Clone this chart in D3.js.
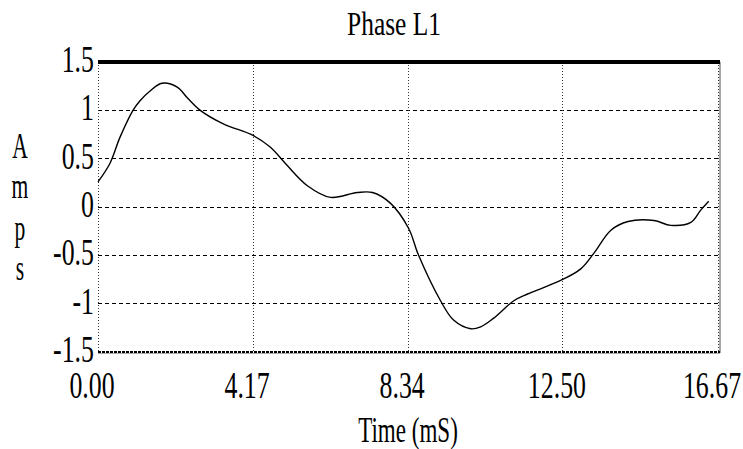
<!DOCTYPE html>
<html><head><meta charset="utf-8">
<script src="https://cdn.jsdelivr.net/npm/d3@7"></script>
<style>body{margin:0;background:#fff}svg{display:block}</style>
</head><body><svg id="c" width="743" height="449"></svg>
<script>
const title = "Phase L1";
const xLabel = "Time (mS)";
const yLabelLetters = ["A","m","p","s"];
const xTicks = [0, 4.17, 8.34, 12.50, 16.67];
const xTickLabels = ["0.00","4.17","8.34","12.50","16.67"];
const yTicks = [1.5, 1, 0.5, 0, -0.5, -1, -1.5];
const yTickLabels = ["1.5","1","0.5","0","-0.5","-1","-1.5"];
const timeMs = [0.00,0.32,0.59,0.94,1.13,1.40,1.72,2.13,2.40,2.75,3.37,4.17,4.63,5.04,5.63,6.25,6.97,7.38,7.86,8.35,8.62,9.21,9.56,10.02,10.29,10.64,11.18,11.55,12.44,12.98,13.33,13.79,14.25,14.95,15.40,15.94,16.21,16.42];
const amps   = [0.26,0.45,0.72,1.00,1.10,1.20,1.28,1.24,1.13,1.00,0.86,0.74,0.62,0.45,0.22,0.10,0.15,0.15,0.04,-0.22,-0.50,-0.97,-1.17,-1.26,-1.24,-1.15,-0.97,-0.90,-0.76,-0.64,-0.48,-0.24,-0.15,-0.14,-0.19,-0.16,-0.03,0.06];

const svg = d3.select("#c");
const L = 98, R = 718, T = 62, B = 352;
const x = d3.scaleLinear().domain([0, 16.67]).range([L, R]);
const y = d3.scaleLinear().domain([-1.5, 1.5]).range([B, T]);
const FONT = "'Liberation Serif', serif";

function ctext(px, py, str, size, sx, anchor){
  svg.append("text")
    .attr("transform", `translate(${px},${py}) scale(${sx},1)`)
    .attr("text-anchor", anchor)
    .attr("font-family", FONT).attr("font-size", size)
    .attr("fill", "#000").text(str);
}

// horizontal grid lines (dashed)
svg.append("g").selectAll("line").data(yTicks.filter(v => v > -1.5 && v < 1.5)).join("line")
  .attr("x1", L).attr("x2", R).attr("y1", d => y(d)).attr("y2", d => y(d))
  .attr("stroke", "#000").attr("stroke-width", 1).attr("stroke-dasharray", "4,3")
  .attr("shape-rendering", "crispEdges");
// vertical grid lines (dotted)
svg.append("g").selectAll("line").data(xTicks).join("line")
  .attr("x1", d => x(d)).attr("x2", d => x(d)).attr("y1", T).attr("y2", B)
  .attr("stroke", "#333").attr("stroke-width", 1).attr("stroke-dasharray", "1,2")
  .attr("shape-rendering", "crispEdges");
// right border solid gray
svg.append("line").attr("x1", R + 2).attr("x2", R + 2).attr("y1", T).attr("y2", B + 1)
  .attr("stroke", "#888").attr("stroke-width", 1.5);
// top border thick
svg.append("line").attr("x1", L).attr("x2", R + 2).attr("y1", y(1.5)).attr("y2", y(1.5))
  .attr("stroke", "#000").attr("stroke-width", 4);
// bottom border
svg.append("line").attr("x1", L).attr("x2", R + 2).attr("y1", y(-1.5)).attr("y2", y(-1.5))
  .attr("stroke", "#000").attr("stroke-width", 2).attr("stroke-dasharray", "3,1");
svg.append("line").attr("x1", L).attr("x2", R + 2).attr("y1", y(-1.5) + 1.5).attr("y2", y(-1.5) + 1.5)
  .attr("stroke", "#aaa").attr("stroke-width", 1);

// data curve
const pts = timeMs.map((t, i) => [t, amps[i]]);
svg.append("path").datum(pts)
  .attr("d", d3.line().x(d => x(d[0])).y(d => y(d[1])).curve(d3.curveCatmullRom.alpha(0.5)))
  .attr("fill", "none").attr("stroke", "#000").attr("stroke-width", 1.4);

// y tick labels
yTicks.forEach((v, i) => ctext(L - 4, y(v) + 10, yTickLabels[i], 38, 0.68, "end"));
// x tick labels
xTicks.forEach((v, i) => ctext(x(v) - 6, 398, xTickLabels[i], 38, 0.68, "middle"));
// title
ctext(394, 35, title, 33, 0.77, "middle");
// x label
ctext(408, 442, xLabel, 36, 0.64, "middle");
// y label stacked letters
const yl = [158, 198, 240, 280];
yLabelLetters.forEach((c, i) => ctext(20, yl[i], c, 36, 0.6, "middle"));
</script></body></html>
